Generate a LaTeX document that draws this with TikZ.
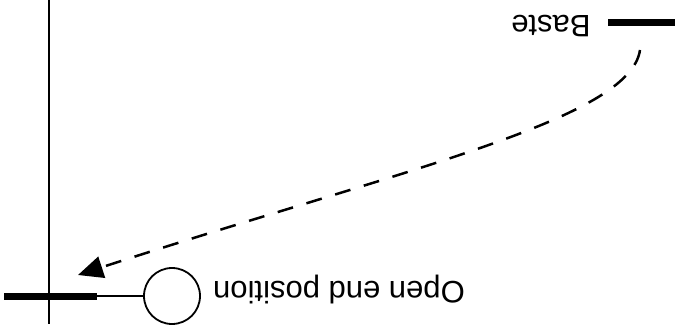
\documentclass[tikz,border=0pt]{standalone}
\usepackage{fontspec}
\setmainfont{Liberation Sans}
\usetikzlibrary{arrows.meta}

\begin{document}
\begin{tikzpicture}[x=1pt,y=-1pt,
    flipped/.style={rotate=180,inner sep=0pt,font=\fontsize{31}{36}\selectfont},
    bar/.style={line width=7pt},
    guide/.style={line width=2.5pt,dash pattern=on 16pt off 14pt}]
  \useasboundingbox (0,0) rectangle (677,324);

  % Draw the vertical reference line
  \coordinate (axtop) at (49,0);
  \coordinate (axbot) at (49,324);
  \draw[line width=2pt] (axtop) -- (axbot);

  % Draw the open end and its loop
  \coordinate (barL) at (4,296);
  \coordinate (barR) at (97,296);
  \draw[bar] (barL) -- (barR);
  \node[circle,draw,line width=1.8pt,minimum size=56pt,inner sep=0pt] (loop) at (172,296) {};
  \draw[line width=1.5pt] (barR) -- (loop.west);
  \node[flipped] (openlbl) at (339,290) {Open end position};

  % Draw the baste mark
  \coordinate (basteL) at (608,22);
  \coordinate (basteR) at (675,22);
  \draw[bar] (basteL) -- (basteR);
  \node[flipped] (bastelbl) at (551,26) {Baste};

  % Draw the dashed arrow
  \coordinate (from) at (640,50);
  \coordinate (to) at (78,275);
  \draw[guide,-{Triangle[length=25pt,width=22pt]}] (from) .. controls (630,120) and (400,170) .. (to);
\end{tikzpicture}
\end{document}
